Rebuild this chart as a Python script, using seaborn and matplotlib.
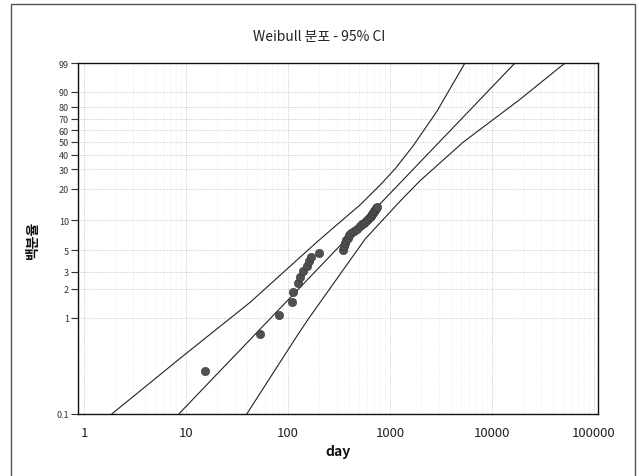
import numpy as np
import pandas as pd
import matplotlib
matplotlib.use('Agg')
import matplotlib.pyplot as plt
from matplotlib.patches import Rectangle
from matplotlib.ticker import FixedLocator, FixedFormatter, LogLocator, NullFormatter
import seaborn as sns

# failure points (day, percent)
fail_day = [15.2, 52.6, 82, 109, 112, 124, 131, 141, 152, 159, 168, 201,
            346, 356, 365, 374, 383, 394, 413, 443, 475, 512, 534, 561,
            586, 609, 637, 651, 666, 681, 697, 713, 726, 739]
fail_pct = [0.28, 0.68, 1.08, 1.48, 1.88, 2.28, 2.68, 3.08, 3.47, 3.87, 4.27, 4.67,
            5.07, 5.47, 5.87, 6.27, 6.67, 7.07, 7.47, 7.87, 8.27, 8.67, 9.07, 9.46,
            9.86, 10.26, 10.66, 11.06, 11.46, 11.86, 12.26, 12.66, 13.06, 13.46]

# fitted line and 95% bounds
fit_day = [8.5, 16800]
fit_pct = [0.1, 99]
upper_day = [1.87, 9.41, 42.4, 198, 508, 798, 1119, 1692, 2890, 5430]
upper_pct = [0.1, 0.405, 1.45, 6.22, 14.1, 21.7, 30.3, 46.9, 76.5, 99]
lower_day = [39.4, 117, 158, 569, 1253, 1968, 5236, 18830, 52000]
lower_pct = [0.1, 0.604, 0.975, 6.47, 15.3, 23.8, 49.8, 85.4, 99]

y_ticks = [0.1, 1, 2, 3, 5, 10, 20, 30, 40, 50, 60, 70, 80, 90, 99]
y_labels = ['0.1', '1', '2', '3', '5', '10', '20', '30', '40', '50', '60', '70', '80', '90', '99']
x_ticks = [1, 10, 100, 1000, 10000, 100000]
x_labels = ['1', '10', '100', '1000', '10000', '100000']


def weib(p):
    p = np.clip(np.asarray(p, dtype=float) / 100.0, 1e-9, 1 - 1e-9)
    return np.log(-np.log(1 - p))


def weib_inv(w):
    return 100.0 * (1 - np.exp(-np.exp(np.asarray(w, dtype=float))))


sns.set_style('white')
plt.rcParams['font.family'] = ['Noto Sans CJK KR', 'DejaVu Sans']

fig = plt.figure(figsize=(6.39, 4.77), dpi=100)
ax = fig.add_axes([0.1221, 0.130, 0.8137, 0.7358])

line_kw = dict(color='#222222', linewidth=0.8, sort=False, estimator=None, ax=ax)
sns.lineplot(data=pd.DataFrame({'day': upper_day, 'pct': upper_pct}), x='day', y='pct', **line_kw)
sns.lineplot(data=pd.DataFrame({'day': fit_day, 'pct': fit_pct}), x='day', y='pct', **line_kw)
sns.lineplot(data=pd.DataFrame({'day': lower_day, 'pct': lower_pct}), x='day', y='pct', **line_kw)
sns.scatterplot(data=pd.DataFrame({'day': fail_day, 'pct': fail_pct}), x='day', y='pct',
                color='#505050', edgecolor='#333333', linewidth=0.4, s=36, ax=ax, zorder=5)

ax.set_xscale('log')
ax.set_yscale('function', functions=(weib, weib_inv))
ax.set_xlim(0.873, 1.094e5)
ax.set_ylim(0.1, 99)

ax.xaxis.set_major_locator(FixedLocator(x_ticks))
ax.xaxis.set_major_formatter(FixedFormatter(x_labels))
ax.xaxis.set_minor_locator(LogLocator(base=10, subs=np.arange(2, 10), numticks=20))
ax.xaxis.set_minor_formatter(NullFormatter())
ax.yaxis.set_major_locator(FixedLocator(y_ticks))
ax.yaxis.set_major_formatter(FixedFormatter(y_labels))
ax.yaxis.set_minor_locator(FixedLocator([]))

ax.tick_params(axis='x', which='major', direction='in', length=3, width=0.8, pad=9,
               labelsize=9.5, colors='#222222')
ax.tick_params(axis='x', which='minor', length=0)
ax.tick_params(axis='y', direction='out', length=5, width=0.8, pad=1.5,
               labelsize=6.5, colors='#333333', left=True)

ax.grid(True, which='major', linestyle=':', linewidth=0.6, color='#b8b8b8')
ax.grid(True, which='minor', axis='x', linestyle=':', linewidth=0.5, color='#e4e4e4')
for s in ax.spines.values():
    s.set_visible(True)
    s.set_color('#111111')
    s.set_linewidth(1.0)

ax.set_xlabel('day', fontsize=10, fontweight='bold', color='#111111')
ax.xaxis.set_label_coords(0.5, -0.085)
ax.set_ylabel('백분율', fontsize=10, fontweight='bold', color='#111111')
ax.yaxis.set_label_coords(-0.073, 0.5)

fig.text(0.499, 0.922, 'Weibull 분포 - 95% CI', ha='center', va='center',
         fontsize=10, color='#222222')

fig.patches.append(Rectangle((11 / 639, -0.05), 624 / 639, 1.0395, transform=fig.transFigure,
                             fill=False, edgecolor='#555555', linewidth=1.0))

fig.savefig('out.png', dpi=100)
